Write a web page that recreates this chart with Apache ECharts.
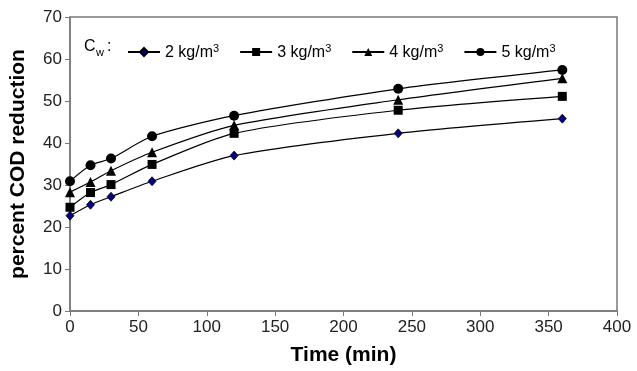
<!DOCTYPE html>
<html><head><meta charset="utf-8">
<script src="https://cdn.jsdelivr.net/npm/echarts@6/dist/echarts.min.js"></script>
<style>html,body{margin:0;padding:0;background:#fff}#c{width:637px;height:371px}</style>
</head><body><div id="c"></div>
<script>
const times = [0, 15, 30, 60, 120, 240, 360];
const cw2 = [22.7, 25.3, 27.2, 30.9, 37.0, 42.3, 45.8];
const cw3 = [24.7, 28.2, 30.1, 34.9, 42.3, 47.8, 51.1];
const cw4 = [28.3, 30.7, 33.4, 37.8, 44.2, 50.3, 55.4];
const cw5 = [30.9, 34.7, 36.3, 41.6, 46.5, 52.9, 57.4];
const seriesNames = ['2 kg/m3', '3 kg/m3', '4 kg/m3', '5 kg/m3'];

const chart = echarts.init(document.getElementById('c'), null, {renderer: 'canvas'});
const font = 'Liberation Sans, Arial, sans-serif';
function pair(arr){ return times.map((t,i)=>[t, arr[i]]); }
const symbols = [
  {symbol:'diamond', symbolSize:[8,9], color:'#000080'},
  {symbol:'rect', symbolSize:9, color:'#000'},
  {symbol:'triangle', symbolSize:10, color:'#000'},
  {symbol:'circle', symbolSize:10, color:'#000'}
];
const datasets = [cw2, cw3, cw4, cw5];
chart.setOption({
  animation:false,
  grid:{left:69, right:20, top:17, bottom:56, show:true, borderColor:'#7a7a7a', borderWidth:1.5},
  legend:{
    top:38, left:122, itemGap:20, itemWidth:32, itemHeight:10,
    formatter: function(n){ const p = n.split('m3'); return '{t|' + p[0] + 'm}{s|3}'; },
    textStyle:{fontFamily:font, fontSize:16, color:'#000',
      rich:{
        t:{fontFamily:font, fontSize:16, color:'#000', lineHeight:18, verticalAlign:'bottom'},
        s:{fontFamily:font, fontSize:11, color:'#000', lineHeight:18, verticalAlign:'top', padding:[0,0,6,0]}
      }},
    data:seriesNames
  },
  graphic:[
    {type:'text', left:84, top:39, style:{text:'C', font:'16px '+font, fill:'#000'}},
    {type:'text', left:96, top:47, style:{text:'w', font:'11px '+font, fill:'#000'}},
    {type:'text', left:107, top:39, style:{text:':', font:'16px '+font, fill:'#000'}}
  ],
  xAxis:{
    type:'value', min:0, max:400, interval:50,
    name:'Time (min)', nameLocation:'middle', nameGap:34,
    nameTextStyle:{fontFamily:font, fontSize:21, fontWeight:'bold', color:'#000'},
    axisLine:{lineStyle:{color:'#7a7a7a', width:1.5}},
    axisTick:{show:true, length:5, lineStyle:{color:'#7a7a7a'}},
    axisLabel:{fontFamily:font, fontSize:17, color:'#222', margin:8},
    splitLine:{show:false}
  },
  yAxis:{
    type:'value', min:0, max:70, interval:10,
    name:'percent COD reduction', nameLocation:'middle', nameGap:41,
    nameTextStyle:{fontFamily:font, fontSize:21, fontWeight:'bold', color:'#000'},
    axisLine:{show:true, lineStyle:{color:'#7a7a7a', width:1.5}},
    axisTick:{show:true, length:5, lineStyle:{color:'#7a7a7a'}},
    axisLabel:{fontFamily:font, fontSize:17, color:'#222', margin:8},
    splitLine:{show:false}
  },
  series: datasets.map((d,i)=>({
    name:seriesNames[i], type:'line', data:pair(d), smooth:0.25,
    symbol:symbols[i].symbol, symbolSize:symbols[i].symbolSize,
    lineStyle:{color:'#000', width:1.2},
    itemStyle:{color:symbols[i].color, borderColor:'#000', borderWidth:i===0?0.8:0},
    z: 2+i
  }))
});
</script></body></html>
